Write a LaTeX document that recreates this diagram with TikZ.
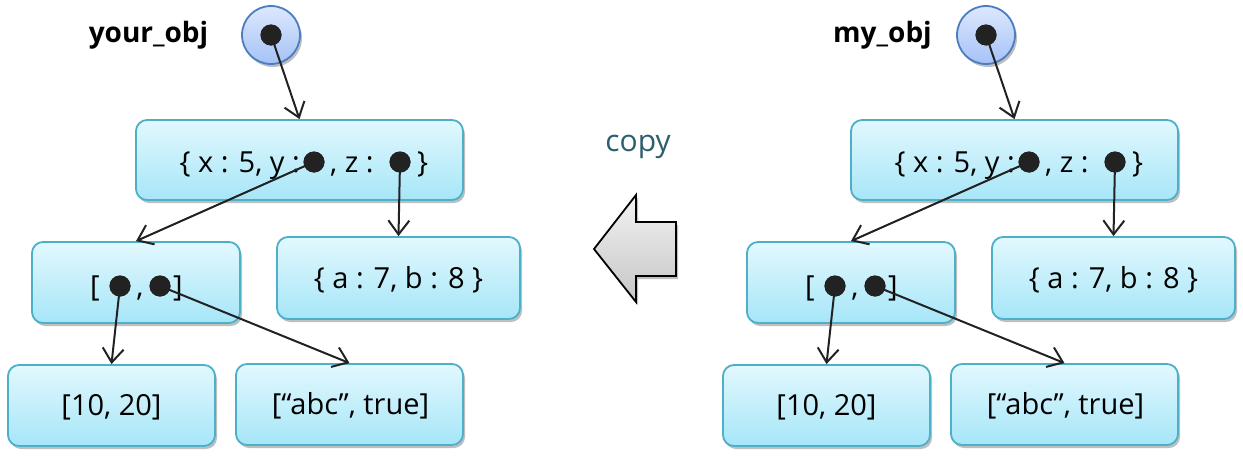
\documentclass[tikz,border=0pt]{standalone}
\usepackage{fontspec}
\setmainfont{Open Sans}
\usetikzlibrary{arrows.meta,shadows}

\definecolor{boxtop}{HTML}{E2F8FE}
\definecolor{boxbot}{HTML}{A6E6F8}
\definecolor{boxedge}{HTML}{4DAFC8}
\definecolor{reftop}{HTML}{DDE8FD}
\definecolor{refbot}{HTML}{A5C2F7}
\definecolor{refedge}{HTML}{4C7DBE}
\definecolor{dotcol}{HTML}{222222}
\definecolor{copycol}{HTML}{2B5F6F}

\tikzset{
  objbox/.style={draw=boxedge, line width=1.8pt, rounded corners=11pt,
    top color=boxtop, bottom color=boxbot,
    drop shadow={shadow xshift=2pt, shadow yshift=-3pt, opacity=0.25, fill=black}},
  refcircle/.style={circle, draw=refedge, line width=1.8pt, minimum size=58pt, inner sep=0pt,
    top color=reftop, bottom color=refbot,
    drop shadow={shadow xshift=2pt, shadow yshift=-3pt, opacity=0.25, fill=black}},
  refdot/.style={circle, fill=dotcol, minimum size=21pt, inner sep=0pt},
  txt/.style={font=\fontsize{29}{34}\selectfont, inner sep=0pt, text=black},
  varname/.style={font=\fontsize{28}{32}\selectfont\bfseries, inner sep=0pt},
  link/.style={draw=dotcol, line width=2pt, -{Straight Barb[length=14pt,width=21pt,line width=2pt]}}
}

% one object graph: the variable, its object and the nested values
\newcommand{\objgraph}[3]{%
  \node[varname] (#1name) at (#3,35) {#2};
  \node[refcircle] (#1ref) at (271,35) {};
  \node[refdot] (#1refdot) at (271,35) {};
  \node[objbox, minimum width=327pt, minimum height=80pt] (#1outer) at (299.5,160) {};
  \node[objbox, minimum width=208pt, minimum height=81pt] (#1list) at (136,282.5) {};
  \node[objbox, minimum width=243pt, minimum height=82pt] (#1ab) at (398.5,278) {};
  \node[objbox, minimum width=207pt, minimum height=81pt] (#1nums) at (111.5,405.5) {};
  \node[objbox, minimum width=227pt, minimum height=81pt] (#1strs) at (349.5,404.5) {};
  % texts of the outer object
  \node[txt, anchor=base east] (#1outa) at (300,172) {\{ x : 5, y :};
  \node[refdot] (#1ydot) at (314,162) {};
  \node[txt, anchor=base west] (#1outb) at (330,172) {, z :};
  \node[refdot] (#1zdot) at (400,162) {};
  \node[txt, anchor=base west] (#1outc) at (417,172) {\}};
  % texts of the list
  \node[txt, anchor=base] (#1lista) at (95,296) {[};
  \node[refdot] (#1firstdot) at (120,286) {};
  \node[txt, anchor=base] (#1listb) at (140,296) {,};
  \node[refdot] (#1seconddot) at (160,286) {};
  \node[txt, anchor=base] (#1listc) at (178,296) {]};
  % texts of the leaf objects
  \node[txt] (#1abtxt) at (398.5,280) {\{ a : 7, b : 8 \}};
  \node[txt] (#1numstxt) at (111.5,407) {[10, 20]};
  \node[txt] (#1strstxt) at (350.5,406) {[“abc”, true]};
  % references
  \draw[link] (#1refdot.center) -- (#1outer.north);
  \draw[link] (#1ydot.center) -- (#1list.north);
  \draw[link] (#1zdot.center) -- (#1ab.north);
  \draw[link] (#1firstdot.center) -- (#1nums.north);
  \draw[link] (#1seconddot.center) -- (#1strs.north);
  % dots on top of the reference lines
  \node[refdot] at (#1refdot) {};
  \node[refdot] at (#1ydot) {};
  \node[refdot] at (#1zdot) {};
  \node[refdot] at (#1firstdot) {};
  \node[refdot] at (#1seconddot) {};
}

\begin{document}
\begin{tikzpicture}[x=1pt, y=-1pt]
  \useasboundingbox (0,0) rectangle (1243,458);

  \objgraph{y}{your\_obj}{148.5}
  \begin{scope}[xshift=715pt]
    \objgraph{m}{my\_obj}{167.5}
  \end{scope}

  % copy arrow between the two graphs
  \node[font=\fontsize{30}{34}\selectfont, text=copycol, inner sep=0pt] (copylabel) at (638,147) {copy};
  \draw[line width=1.8pt, draw=black, top color=gray!10, bottom color=gray!45,
        drop shadow={shadow xshift=2pt, shadow yshift=-3pt, opacity=0.25, fill=black}]
    (594,249) -- (636,195) -- (636,222) -- (676,222) -- (676,276) -- (636,276) -- (636,302) -- cycle;
\end{tikzpicture}
\end{document}
